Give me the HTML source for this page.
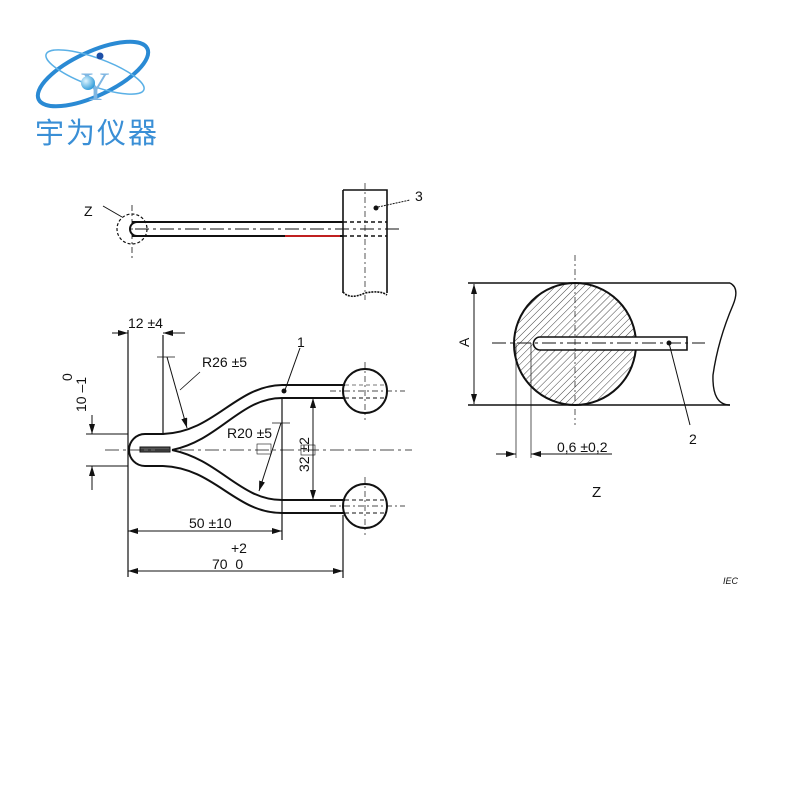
<!DOCTYPE html>
<html><head><meta charset="utf-8"><style>
html,body{margin:0;padding:0;background:#fff;width:800px;height:800px;overflow:hidden}
svg{display:block}
text{font-family:"Liberation Sans",Arial,sans-serif;fill:#111}
</style></head><body>
<svg width="800" height="800" viewBox="0 0 800 800" xmlns="http://www.w3.org/2000/svg">
<defs>
<marker id="a" viewBox="0 0 10 6" refX="10" refY="3" markerWidth="10" markerHeight="6" orient="auto-start-reverse" markerUnits="userSpaceOnUse"><path d="M0,0L10,3L0,6z" fill="#111"/></marker>
<pattern id="h" width="5" height="5" patternUnits="userSpaceOnUse" patternTransform="rotate(45)"><line x1="0" y1="0" x2="0" y2="5" stroke="#444" stroke-width="1"/></pattern>
<radialGradient id="bl" cx="0.35" cy="0.35" r="0.7"><stop offset="0" stop-color="#dff5ff"/><stop offset="1" stop-color="#2d9ad8"/></radialGradient>
</defs>

<!-- Logo -->
<g>
<ellipse cx="93" cy="74" rx="60" ry="22" transform="rotate(-25 93 74)" fill="none" stroke="#2a8ad4" stroke-width="4"/>
<ellipse cx="95" cy="72" rx="52" ry="14" transform="rotate(20 95 72)" fill="none" stroke="#5ab0e6" stroke-width="1.5"/>
<text x="81" y="100" font-size="40" style="font-family:'Liberation Serif',serif;fill:#7fb6e2" >Y</text>
<circle cx="88" cy="83" r="7" fill="url(#bl)"/>
<circle cx="100" cy="56" r="3.5" fill="#1d4fa8"/>
<text x="35" y="143" font-size="29" style="font-family:'Liberation Sans','Noto Sans CJK SC',sans-serif;fill:#3a8fd6" textLength="122">宇为仪器</text>
</g>

<g fill="none" stroke="#111" stroke-width="1.6">
<!-- Top view -->
<line x1="132" y1="222" x2="343" y2="222" stroke-width="2"/>
<line x1="132" y1="236" x2="343" y2="236" stroke-width="2"/>
<line x1="285" y1="236" x2="340" y2="236" stroke="#c02020" stroke-width="2"/>
<path d="M137 222 A7 7 0 0 0 137 236" stroke-width="2"/>
<circle cx="132" cy="229" r="15" stroke-dasharray="3 2" stroke-width="1.2"/>
<line x1="132" y1="205" x2="132" y2="258" stroke-width="0.8" stroke-dasharray="6 3 2 3"/>
<line x1="135" y1="229" x2="402" y2="229" stroke-width="1" stroke-dasharray="14 4 3 4"/>
<line x1="103" y1="206" x2="122" y2="217" stroke-width="1"/>
<path d="M343 190 H387 V293 M343 190 V293" stroke-width="1.6"/>
<path d="M343 292 Q350 300 365 293 Q380 290 387 295" stroke-dasharray="2 1"/>
<line x1="365" y1="183" x2="365" y2="300" stroke-width="0.7" stroke-dasharray="6 3 2 3"/>
<line x1="343" y1="222" x2="387" y2="222" stroke-dasharray="4 3"/>
<line x1="343" y1="236" x2="387" y2="236" stroke-dasharray="4 3"/>
<line x1="378" y1="207" x2="410" y2="200" stroke-width="1" stroke-dasharray="2 1"/>

<!-- Fork -->
<line x1="128" y1="330" x2="128" y2="577" stroke-width="1.2"/>
<line x1="163" y1="335" x2="163" y2="435" stroke-width="1.2"/>
<path d="M163 434 H145 A16 16 0 0 0 145 466 H163" stroke-width="2"/>
<path d="M163 434 C215 432 235 386 282 385 H345" stroke-width="2"/>
<path d="M172 450 C220 440 240 398 282 398 H345" stroke-width="2"/>
<path d="M163 466 C215 468 235 513 282 513 H345" stroke-width="2"/>
<path d="M172 450 C220 460 240 500 282 500 H345" stroke-width="2"/>
<rect x="140" y="447" width="30" height="5" fill="#555" stroke-width="1"/>
<line x1="105" y1="450" x2="412" y2="450" stroke-width="0.8" stroke-dasharray="14 4 3 4"/>
<circle cx="365" cy="391" r="22" stroke-width="2"/>
<circle cx="365" cy="506" r="22" stroke-width="2"/>
<line x1="365" y1="362" x2="365" y2="420" stroke-width="0.7" stroke-dasharray="6 3 2 3"/>
<line x1="365" y1="477" x2="365" y2="535" stroke-width="0.7" stroke-dasharray="6 3 2 3"/>
<line x1="330" y1="391" x2="405" y2="391" stroke-width="0.7" stroke-dasharray="6 3 2 3"/>
<line x1="330" y1="506" x2="405" y2="506" stroke-width="0.7" stroke-dasharray="6 3 2 3"/>
<line x1="345" y1="500" x2="385" y2="500" stroke-dasharray="4 3" stroke-width="1"/>
<line x1="345" y1="513" x2="385" y2="513" stroke-dasharray="4 3" stroke-width="1"/>
<line x1="345" y1="385" x2="385" y2="385" stroke-dasharray="4 3" stroke-width="1" stroke="#777"/>
<line x1="345" y1="398" x2="385" y2="398" stroke-dasharray="4 3" stroke-width="1"/>
<line x1="282" y1="398" x2="282" y2="540" stroke-width="1.2"/>
<line x1="343" y1="515" x2="343" y2="578" stroke-width="1.2"/>
<!-- dims -->
<line x1="112" y1="333" x2="128" y2="333" marker-end="url(#a)" stroke-width="1"/>
<line x1="185" y1="333" x2="163" y2="333" marker-end="url(#a)" stroke-width="1"/>
<line x1="128" y1="531" x2="282" y2="531" marker-start="url(#a)" marker-end="url(#a)" stroke-width="1"/>
<line x1="128" y1="571" x2="343" y2="571" marker-start="url(#a)" marker-end="url(#a)" stroke-width="1"/>
<line x1="313" y1="398" x2="313" y2="500" marker-start="url(#a)" marker-end="url(#a)" stroke-width="1"/>
<line x1="86" y1="434" x2="128" y2="434" stroke-width="1"/>
<line x1="86" y1="466" x2="128" y2="466" stroke-width="1"/>
<line x1="92" y1="415" x2="92" y2="434" marker-end="url(#a)" stroke-width="1"/>
<line x1="92" y1="490" x2="92" y2="466" marker-end="url(#a)" stroke-width="1"/>
<line x1="157" y1="357" x2="175" y2="357" stroke-width="0.8"/>
<line x1="167" y1="357" x2="187" y2="428" marker-end="url(#a)" stroke-width="1"/>
<line x1="180" y1="390" x2="200" y2="372" stroke-width="0.8"/>
<line x1="272" y1="423" x2="290" y2="423" stroke-width="0.8"/>
<line x1="281" y1="423" x2="259" y2="491" marker-end="url(#a)" stroke-width="1"/>
<rect x="257" y="444" width="14" height="10" stroke-width="0.6"/>
<rect x="301" y="445" width="14" height="10" stroke-width="0.6"/>
<line x1="285" y1="390" x2="300" y2="348" stroke-width="1"/>

<!-- Right section -->
<line x1="468" y1="283" x2="730" y2="283" stroke-width="1.6"/>
<line x1="468" y1="405" x2="730" y2="405" stroke-width="1.6"/>
<path d="M730 283 Q740 288 733 305 Q718 340 713 375 Q712 405 730 405" stroke-width="1.4"/>
<circle cx="575" cy="344" r="61" fill="url(#h)" stroke-width="2"/>
<path d="M540 337 H687 V350 H540 A6.5 6.5 0 0 1 540 337 Z" fill="#fff" stroke-width="1.6"/>
<line x1="492" y1="343" x2="705" y2="343" stroke-width="1" stroke-dasharray="14 4 3 4"/>
<line x1="575" y1="255" x2="575" y2="425" stroke-width="0.7" stroke-dasharray="6 3 2 3"/>
<line x1="474" y1="284" x2="474" y2="404" marker-start="url(#a)" marker-end="url(#a)" stroke-width="1"/>
<line x1="516" y1="343" x2="516" y2="458" stroke-width="0.7"/>
<line x1="531" y1="343" x2="531" y2="458" stroke-width="0.7"/>
<line x1="496" y1="454" x2="516" y2="454" marker-end="url(#a)" stroke-width="1"/>
<line x1="612" y1="454" x2="531" y2="454" marker-end="url(#a)" stroke-width="1"/>
<line x1="669" y1="343" x2="690" y2="425" stroke-width="1"/>
</g>
<circle cx="376" cy="208" r="2.5" fill="#111"/>
<circle cx="284" cy="391" r="2.5" fill="#111"/>
<circle cx="669" cy="343" r="2.5" fill="#111"/>

<g font-size="14">
<text x="84" y="216">Z</text>
<text x="415" y="201">3</text>
<text x="128" y="328">12 ±4</text>
<text x="202" y="367">R26 ±5</text>
<text x="297" y="347">1</text>
<text x="227" y="438">R20 ±5</text>
<text x="189" y="528">50 ±10</text>
<text x="231" y="553">+2</text>
<text x="212" y="569">70&#160;&#160;0</text>
<text transform="translate(72,381) rotate(-90)">0</text>
<text transform="translate(86,412) rotate(-90)">10 –1</text>
<text transform="translate(309,472) rotate(-90)">32 ±2</text>
<text transform="translate(469,347) rotate(-90)">A</text>
<text x="557" y="452">0,6 ±0,2</text>
<text x="689" y="444">2</text>
<text x="592" y="497" font-size="15">Z</text>
<text x="723" y="584" font-size="9" font-style="italic">IEC</text>
</g>
</svg>
</body></html>
